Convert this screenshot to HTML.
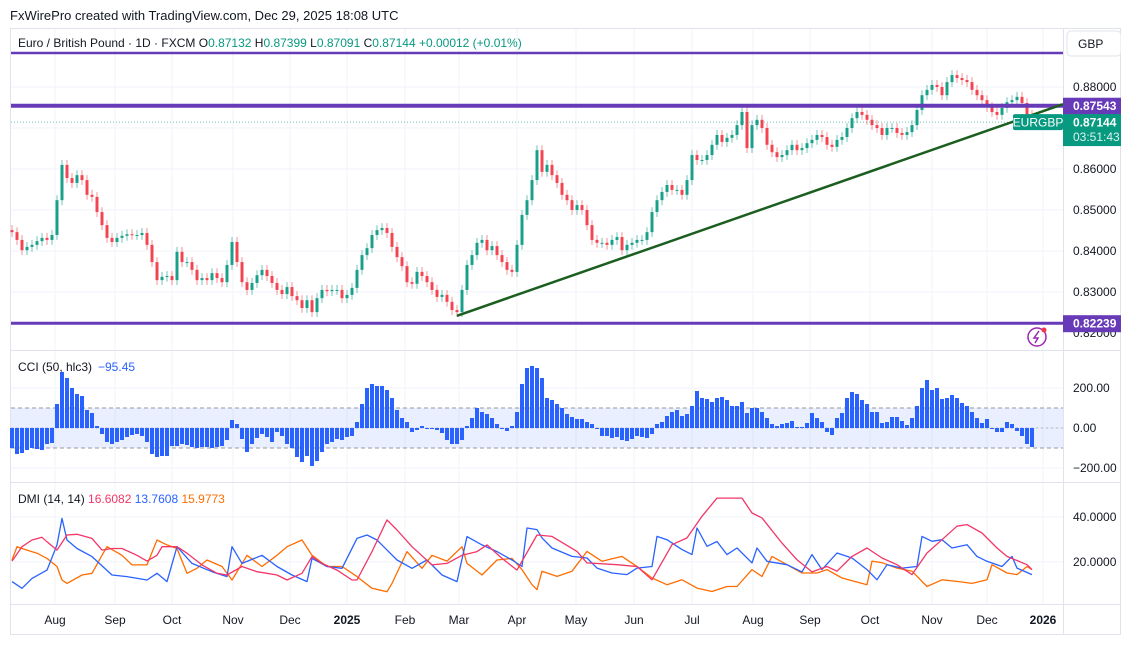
<!DOCTYPE html>
<html><head><meta charset="utf-8">
<style>
html,body{margin:0;padding:0;background:#fff;}
body{width:1121px;height:646px;overflow:hidden;font-family:"Liberation Sans",sans-serif;}
svg text{font-family:"Liberation Sans",sans-serif;}
</style></head>
<body>
<svg id="c" width="1121" height="646" viewBox="0 0 1121 646" xmlns="http://www.w3.org/2000/svg">
<rect x="0" y="0" width="1121" height="646" fill="#fff"/>
<text x="10" y="20" font-size="13" fill="#131722">FxWirePro created with TradingView.com, Dec 29, 2025 18:08 UTC</text>
<rect x="10.5" y="28.5" width="1110" height="606" fill="none" stroke="#e0e3eb"/>
<g id="grid"></g>
<g id="panes"></g>
<g id="candles"></g>
<g id="cci"></g>
<g id="dmi"></g>
<g id="overlay"></g>
<g id="axes"></g>
</svg>
<script>
// ---------- data ----------
const closesPips = [8446,8427,8402,8410,8415,8424,8432,8427,8439,8524,
8610,8578,8566,8585,8573,8537,8532,8495,8463,8432,
8422,8432,8437,8441,8439,8439,8444,8415,8373,8329,
8337,8339,8329,8398,8373,8373,8354,8329,8334,8329,
8346,8334,8324,8366,8422,8373,8324,8305,8322,8341,
8354,8339,8322,8305,8295,8312,8290,8280,8261,8280,
8251,8285,8305,8302,8305,8305,8285,8293,8310,8354,
8390,8407,8439,8451,8456,8444,8410,8385,8363,8324,
8320,8349,8339,8324,8305,8288,8293,8276,8256,8251,
8305,8366,8390,8420,8427,8402,8412,8390,8373,8354,
8349,
8415,8488,8524,8573,8646,8593,8610,8585,8566,8537,
8524,8500,8512,8500,8463,8427,8420,8420,8415,8427,
8434,8402,8415,8420,8427,8427,8446,8495,8524,8544,
8561,8549,8549,8537,8573,8634,8622,8622,8634,8659,
8683,8666,8676,8683,8707,8739,8651,8707,8720,8700,
8659,8641,8629,8634,8646,8659,8646,8651,8663,8671,
8683,8678,8659,8654,8671,8678,8700,8724,8739,8732,
8720,8707,8700,8683,8700,8700,8688,8683,8690,8707,
8744,8780,8793,8805,8800,8780,8812,8829,8822,8817,
8812,8793,8780,8768,8751,8739,8732,8749,8763,8768,
8776,8761,8732,8714];
const cciValues = [-100,-130,-125,-110,-100,-105,-110,-80,-75,120,
280,250,200,170,160,90,75,10,-30,-70,
-80,-70,-60,-45,-35,-30,-40,-70,-130,-145,
-140,-140,-90,-90,-80,-85,-95,-100,-95,-95,
-100,-95,-90,-60,40,20,-55,-120,-80,-50,
-30,-45,-70,-20,-40,-80,-100,-145,-170,-140,
-190,-165,-120,-80,-70,-55,-60,-45,-40,30,
120,200,220,210,210,190,150,90,50,30,
-20,-10,10,0,-5,-10,-25,-60,-80,-80,
-60,10,50,100,80,70,50,20,-5,-15,
10,
80,220,300,310,300,250,150,140,120,100,
70,55,45,45,30,20,0,-40,-40,-50,
-45,-60,-65,-55,-40,-45,-50,-30,20,30,
60,80,90,60,70,110,185,150,145,130,
150,155,140,110,110,130,75,100,100,80,
50,20,10,20,25,35,5,5,25,75,
50,30,-20,-35,50,75,150,180,170,140,
120,80,80,25,30,55,55,35,15,50,
110,200,240,190,200,145,150,165,150,125,
110,80,50,25,45,-5,-20,-20,30,20,
-15,-40,-80,-95];
const adxIdx = [0,2,4,6,7,9,11,13,16,18,20,22,25,27,29,30,33,35,38,41,43,46,49,53,55,58,60,62,65,68,69,72,75,77,80,84,87,90,93,95,98,101,105,108,113,115,121,125,128,132,135,138,141,146,148,150,154,157,160,163,165,168,171,174,177,180,183,186,189,191,194,197,199,203,204];
const adxVals = [20.4,26.8,29.8,31,29,25.3,32,32.3,30.5,25.3,26,26,23,20.4,23,26.8,26.8,23.9,18.7,15,14.2,18,15.7,14.2,12,15,22.4,19.4,16.4,12,12,24.6,38.7,34.2,26.8,18.7,19.4,23,24.6,27.6,21.6,16.4,32,31.4,24.7,19.6,18.8,18,12.1,27.7,30.7,40.3,48.4,48.4,41.8,39.6,28.4,21,15.6,18,15.9,22.5,26.2,21.8,18.8,14.4,24,29.9,35.9,36.6,32.9,26.2,22.5,18.8,16.6];
const plusIdx = [0,2,4,7,9,10,11,13,16,20,23,27,29,31,33,36,40,43,44,46,50,53,56,59,60,63,66,69,71,73,77,80,83,86,89,91,94,97,100,102,103,105,106,108,112,115,117,120,123,125,128,129,131,134,136,137,139,141,143,145,148,149,151,155,158,160,162,165,168,171,173,175,178,181,182,184,186,188,191,193,195,198,200,201,204];
const plusVals = [11.3,8.3,12.7,16.4,27.6,39.4,29.8,26,22.4,14.2,13.5,12,15,11.3,26.8,19.4,15.7,13.5,26.8,19.4,23,18,14.2,11.3,21.6,18,17.2,30.5,32,29.8,20.9,17.2,20.9,14.2,11.3,31.3,27.6,24.6,20.9,18,35.1,34.4,30.7,26.2,22.5,21.8,17.3,15.1,14.4,17.3,18,31.4,29.9,25.5,23.3,35.1,27,29.1,23.3,26.2,19.6,26.2,20.3,18.8,15.6,23.3,16.6,24,21.8,16.6,12.1,18.8,17.3,18,31.4,29.2,29.9,26.2,27.7,22.5,20.3,18,22.5,17.3,14.4];
const minusIdx = [0,1,3,5,7,9,10,11,14,16,18,19,22,24,27,29,31,33,35,37,39,42,44,47,50,53,55,58,60,63,66,69,72,75,76,79,82,84,87,90,91,94,97,100,102,104,105,106,109,112,115,118,122,125,128,131,134,137,140,143,145,148,150,152,155,158,161,163,166,171,172,174,177,180,183,186,189,192,195,196,199,201,203,204];
const minusVals = [20.9,26.8,25.3,23.9,21.6,18,12,10.5,14.2,15,23,26.8,23,18.7,18.7,29.8,27.6,26,15,17.2,20.9,18,12,23,18,23,26.8,29.8,23,18,18,13.5,8.3,6.8,10.5,24.6,17.2,23,20.4,26.8,19.4,14.2,20.9,21.6,16.6,9.9,7.7,15.9,13.6,15.9,24.7,20.3,22.5,18,12.9,9.9,12.1,8.4,6.9,9.1,9.1,16.6,13.6,22.5,18.8,15.1,15.1,16.6,12.9,9.9,20.4,19.7,17.3,15.9,9.1,12.1,11.4,10.5,12.1,18.8,15.1,14.4,18,16.6];
const priceTicks = ["0.88000","0.86000","0.85000","0.84000","0.83000","0.82000"];
const priceTickVals = [0.88,0.86,0.85,0.84,0.83,0.82];
const cciTicks = [200,0,-200];
const dmiTicks = [40,20];
const monthLabels = ["Aug","Sep","Oct","Nov","Dec","2025","Feb","Mar","Apr","May","Jun","Jul","Aug","Sep","Oct","Nov","Dec","2026"];
const monthIdx = [8.6,20.6,32,44.2,55.6,67,78.6,89.4,101,112.8,124.4,136,148.2,159.6,171.6,184,195,206.2];
const levelPrices = [0.88829,0.87543,0.82239];
const lastPrice = 0.87144;

// ---------- scales ----------
const NS = "http://www.w3.org/2000/svg";
const X0 = 12, XL = 1032, PLOT_R = 1063;
const N = closesPips.length;
const STEP = (XL - X0) / (N - 1);
const xOf = i => X0 + i * STEP;
const yP = p => 87 + (0.88 - p) * 4100;
const yC = v => 428 - v * 0.2;
const yD = v => 562 - (v - 20) * 2.25;
function mk(tag, attrs, parent, txt){
  const e = document.createElementNS(NS, tag);
  for (const k in attrs) e.setAttribute(k, attrs[k]);
  if (txt !== undefined) e.textContent = txt;
  parent.appendChild(e);
  return e;
}
const G = id => document.getElementById(id);

// ---------- grid ----------
const grid = G('grid');
monthIdx.forEach((mi) => {
  const x = xOf(mi);
  const l = mk('line', {x1:x, x2:x, y1:29, y2:604, stroke:'#f0f3fa', 'stroke-width':1}, grid);
  
  
});
[0.88,0.87,0.86,0.85,0.84,0.83].forEach(p => {
  const l = mk('line', {x1:11, x2:PLOT_R, y1:yP(p), y2:yP(p), stroke:'#f0f3fa'}, grid);
  
  
});
cciTicks.forEach(v => {
  const l = mk('line', {x1:11, x2:PLOT_R, y1:yC(v), y2:yC(v), stroke:'#f0f3fa'}, grid);
  
  
});
dmiTicks.forEach(v => {
  const l = mk('line', {x1:11, x2:PLOT_R, y1:yD(v), y2:yD(v), stroke:'#f0f3fa'}, grid);
  
  
});

// ---------- panes ----------
const panes = G('panes');
[350.5, 482.5, 604.5].forEach(y => {
  const l = mk('line', {x1:11, x2:1121, y1:y, y2:y, stroke:'#e0e3eb'}, panes);
  
  
});
const vs = mk('line', {x1:PLOT_R+0.5, x2:PLOT_R+0.5, y1:29, y2:634, stroke:'#e0e3eb'}, panes);



// ---------- candles ----------
const cg = G('candles');
for (let i = 0; i < N; i++) {
  const c = closesPips[i] / 10000;
  const o = i > 0 ? closesPips[i-1] / 10000 : c + 0.0005;
  const up = c >= o;
  const col = up ? '#089981' : '#f23645';
  const hi = Math.max(o, c) + 0.0012, lo = Math.min(o, c) - 0.0012;
  const x = xOf(i);
  const w = mk('line', {x1:x, x2:x, y1:yP(hi), y2:yP(lo), stroke:col, 'stroke-width':1, opacity:0.55}, cg);
  
  
  const yt = yP(Math.max(o, c)), yb = yP(Math.min(o, c));
  const b = mk('rect', {x:x-1.5, y:yt, width:3, height:Math.max(1, yb-yt), fill:col, opacity:0.9}, cg);
  
  
}

// ---------- CCI ----------
const cc = G('cci');
const band = mk('rect', {x:11, y:yC(100), width:PLOT_R-11, height:yC(-100)-yC(100), fill:'#2962ff', opacity:0.1}, cc);


[100, -100].forEach(v => {
  const l = mk('line', {x1:11, x2:PLOT_R, y1:yC(v), y2:yC(v), stroke:'#9598a1', 'stroke-dasharray':'4 3'}, cc);
  
  
});
const z = mk('line', {x1:11, x2:PLOT_R, y1:yC(0), y2:yC(0), stroke:'#b2b5be', 'stroke-dasharray':'2 3'}, cc);


cciValues.forEach((v, i) => {
  const y0 = yC(0), y1 = yC(v);
  const r = mk('rect', {x:xOf(i)-2, y:Math.min(y0, y1), width:4, height:Math.max(1, Math.abs(y1-y0)), fill:'#2962ff'}, cc);
  
  
});
mk('text', {x:18, y:371, 'font-size':12, fill:'#131722'}, cc, 'CCI (50, hlc3)');
mk('text', {x:98, y:371, 'font-size':12, fill:'#2962ff'}, cc, '−95.45');

// ---------- DMI ----------
const dg = G('dmi');
function line(idx, vals, col, name){
  const d = idx.map((ix, k) => (k ? 'L' : 'M') + xOf(ix).toFixed(1) + ' ' + yD(vals[k]).toFixed(1)).join(' ');
  const p = mk('path', {d:d, fill:'none', stroke:col, 'stroke-width':1.3, 'stroke-linejoin':'round'}, dg);
  
  
}
line(minusIdx, minusVals, '#ff6d00', 'dmi-minus-di-line');
line(plusIdx, plusVals, '#2962ff', 'dmi-plus-di-line');
line(adxIdx, adxVals, '#f23668', 'dmi-adx-line');
const dt = mk('text', {x:18, y:503, 'font-size':12, fill:'#131722'}, dg);


mk('tspan', {}, dt, 'DMI (14, 14) ');
mk('tspan', {fill:'#f23668'}, dt, '16.6082 ');
mk('tspan', {fill:'#2962ff'}, dt, '13.7608 ');
mk('tspan', {fill:'#ff6d00'}, dt, '15.9773');

// ---------- overlay: levels, trend line ----------
const ov = G('overlay');
const lw = [2.5, 4, 3];
levelPrices.forEach((p, k) => {
  const l = mk('line', {x1:11, x2:PLOT_R, y1:yP(p), y2:yP(p), stroke:'#673ab7', 'stroke-width':lw[k]}, ov);
  
  
});
const dl = mk('line', {x1:11, x2:PLOT_R, y1:yP(lastPrice), y2:yP(lastPrice), stroke:'#089981', 'stroke-dasharray':'1 2', opacity:0.6}, ov);


const tl = mk('line', {x1:xOf(89), y1:yP(0.8242), x2:PLOT_R, y2:yP(0.8758), stroke:'#1b5e20', 'stroke-width':2.5}, ov);


// legend
const lg = mk('text', {x:18, y:47, 'font-size':12, fill:'#131722'}, ov);


mk('tspan', {}, lg, 'Euro / British Pound · 1D · FXCM  O');
mk('tspan', {fill:'#089981'}, lg, '0.87132 ');
mk('tspan', {}, lg, ' H');
mk('tspan', {fill:'#089981'}, lg, '0.87399 ');
mk('tspan', {}, lg, ' L');
mk('tspan', {fill:'#089981'}, lg, '0.87091 ');
mk('tspan', {}, lg, ' C');
mk('tspan', {fill:'#089981'}, lg, '0.87144  +0.00012 (+0.01%)');
// EURGBP tag
const tag = mk('rect', {x:1013, y:yP(lastPrice)-8, width:50, height:16, rx:2, fill:'#089981'}, ov);


mk('text', {x:1038, y:yP(lastPrice)+4.5, 'font-size':12, fill:'#fff', 'text-anchor':'middle'}, ov, 'EURGBP');
// lightning icon
const li = mk('circle', {cx:1037, cy:337, r:9, fill:'none', stroke:'#9c27b0', 'stroke-width':1.5}, ov);


mk('path', {d:'M1039 331 L1034 338 L1038 338 L1035 343', fill:'none', stroke:'#9c27b0', 'stroke-width':1.5}, ov);
mk('circle', {cx:1044, cy:330, r:2.5, fill:'#f23645'}, ov);

// ---------- axes ----------
const ax = G('axes');
const gb = mk('rect', {x:1067, y:31, width:54, height:25, rx:4, fill:'#fff', stroke:'#e0e3eb'}, ax);


mk('text', {x:1078, y:48, 'font-size':12, fill:'#131722'}, ax, 'GBP');
priceTicks.forEach((t, k) => {
  const e = mk('text', {x:1073, y:yP(priceTickVals[k])+4, 'font-size':12, fill:'#131722'}, ax, t);
  
  
});
function plabel(p, bg, txt, name, h){
  const y = yP(p);
  const r = mk('rect', {x:1063, y:y-8, width:58, height:h||17, fill:bg}, ax);
  
  
  mk('text', {x:1073, y:y+4.5, 'font-size':12, 'font-weight':'bold', fill:'#fff'}, ax, txt);
}
plabel(levelPrices[1], '#673ab7', '0.87543', 'level-price-label');
plabel(levelPrices[2], '#673ab7', '0.82239', 'level-price-label');
plabel(lastPrice, '#089981', '0.87144', 'last-price-label', 32);
mk('text', {x:1073, y:yP(lastPrice)+19, 'font-size':12, fill:'#ddf3ee'}, ax, '03:51:43');
cciTicks.forEach(v => {
  const e = mk('text', {x:1073, y:yC(v)+4, 'font-size':12, fill:'#131722'}, ax, (v < 0 ? '−' : '') + Math.abs(v).toFixed(2));
  
  
});
dmiTicks.forEach(v => {
  const e = mk('text', {x:1073, y:yD(v)+4, 'font-size':12, fill:'#131722'}, ax, v.toFixed(4));
  
  
});
monthLabels.forEach((m, k) => {
  const bold = /^\d/.test(m);
  const e = mk('text', {x:xOf(monthIdx[k]), y:624, 'font-size':12, fill:'#131722', 'text-anchor':'middle', 'font-weight':bold ? 'bold' : 'normal'}, ax, m);
  
  
});
</script>
</body></html>
